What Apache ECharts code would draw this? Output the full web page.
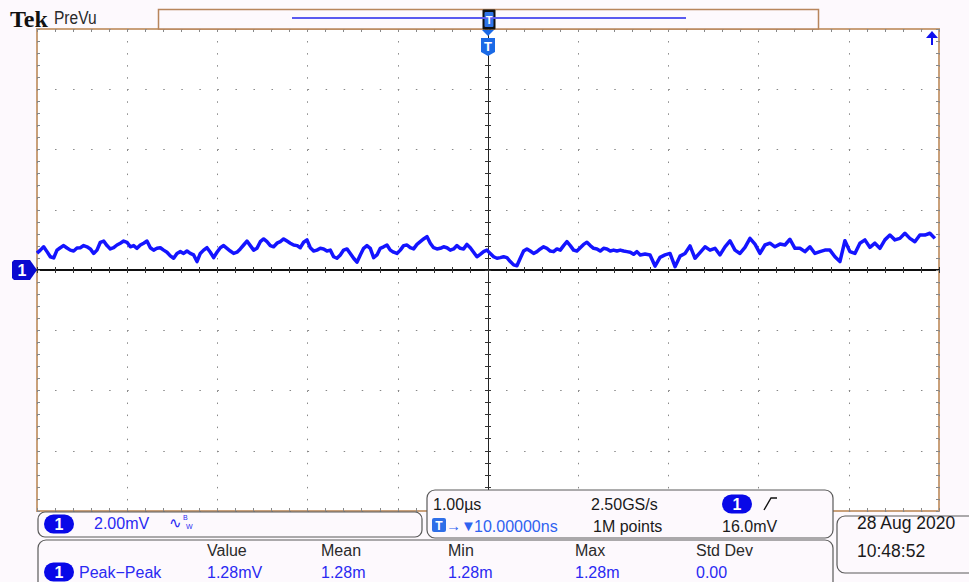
<!DOCTYPE html>
<html><head><meta charset="utf-8">
<script src="https://cdn.jsdelivr.net/npm/echarts@6/dist/echarts.min.js"></script>
<style>html,body{margin:0;padding:0;background:#fdf9fd;}#c{width:969px;height:582px;}</style>
</head><body><div id="c"></div>
<script>
// Horizontal: 1.00 µs/div, 10 divisions; vertical: 2.00 mV/div, 8 divisions
const timeRangeUs = [-5, 5];
const timeDivUs = 1;
const voltRangeMv = [-8, 8];
const voltDivMv = 2;

const recordA_t0Us = -5.0;
const recordA_dtUs = 0.03695;
const recordA_mV = [
 0.56,0.66,0.77,0.61,0.44,0.40,0.66,0.74,0.81,0.73,
 0.66,0.63,0.73,0.74,0.81,0.77,0.70,0.55,0.66,0.92,
 0.96,0.81,0.70,0.74,0.83,0.89,0.96,0.92,0.77,0.81,
 0.72,0.83,0.89,0.96,0.74,0.66,0.72,0.74,0.66,0.59,
 0.47,0.39,0.55,0.61,0.55,0.63,
 0.55,0.50,0.28,0.55,0.66,0.74,0.59,0.41,0.59,0.74,
 0.81,0.72,0.63,0.55,0.59,0.70,0.83,0.96,0.81,0.66,
 0.72,0.94,1.03,0.94,0.81,0.77,0.89,0.94,1.03,0.96,
 0.89,0.83,0.81,0.74,0.92,1.00,0.74,0.63,0.66,0.72,
 0.70,0.63,0.66,0.44,0.39,0.50,
 0.66,0.70,0.55,0.39,0.26,0.50,0.72,0.81,0.72,0.41,
 0.50,0.72,0.77,0.83,0.66,0.59,0.55,0.66,0.81,0.83,
 0.74,0.70,0.85,0.94,1.03,1.11,0.89,0.74,0.70,0.72,
 0.77,0.74,0.66,0.70,0.81,0.72,0.70,0.85,0.74,0.59,
 0.44,0.52,0.61,0.66,0.55,
 0.44,0.39,0.41,0.44,0.41,0.28,0.17,0.14,0.39,0.63,
 0.70,0.63,0.55,0.61,0.70,0.77,0.72,0.63,0.61,0.70,
 0.66,0.81,0.94,0.81,0.66,0.63,0.74,0.85,0.92,0.81,
 0.72,0.70,0.63,0.72,0.70,0.63,0.66,0.63,0.66,0.63,
 0.61,0.59,0.52,0.61,0.50
];
// second part of the record
const recordB_t0Us = 1.741;
const recordB_dtUs = 0.0554;
const recordB_mV = [
 0.53,0.50,0.13,0.42,0.50,0.55,0.11,0.46,0.55,0.80,
 0.39,0.58,0.77,0.66,0.72,0.50,0.77,0.97,0.66,0.55,
 0.75,1.05,0.86,0.55,0.83,0.89,0.77,0.86,0.83,1.02,
 0.72,0.72,0.61,0.77,0.55,0.61,0.66,0.66,0.44,0.28,
 0.97,0.61,0.55,0.89,1.00,0.75,0.89,0.72,1.00,1.16,
 1.00,1.05,1.22,1.05,0.94,1.16,1.16,1.22,1.05
];

// Readouts
const chScaleText = '2.00mV';
const horizScaleText = '1.00µs';
const sampleRateText = '2.50GS/s';
const triggerPosText = '10.00000ns';
const recordLenText = '1M points';
const triggerLevelText = '16.0mV';
const dateText = '28 Aug 2020';
const timeText = '10:48:52';
const measName = 'Peak−Peak';
const measHeaders = ['Value', 'Mean', 'Min', 'Max', 'Std Dev'];
const measValues = ['1.28mV', '1.28m', '1.28m', '1.28m', '0.00'];

const points = recordA_mV.map((v, i) => [recordA_t0Us + i * recordA_dtUs, v])
  .concat(recordB_mV.map((v, i) => [recordB_t0Us + i * recordB_dtUs, v]));

const DOT = '#888888';
const FONT = 'Liberation Sans, Arial, sans-serif';
const BLUE_TXT = '#2a2af2';

function xAx(pos, opts) {
  return Object.assign({
    type: 'value', min: timeRangeUs[0], max: timeRangeUs[1], interval: timeDivUs, position: pos,
    axisLine: { show: false, onZero: false },
    axisTick: { show: true, inside: true, length: 3, lineStyle: { color: DOT, width: 1 } },
    minorTick: { show: true, splitNumber: 5, length: 3, lineStyle: { color: DOT, width: 1 } },
    axisLabel: { show: false }, splitLine: { show: false }
  }, opts || {});
}
function yAx(pos, opts) {
  return Object.assign({
    type: 'value', min: voltRangeMv[0], max: voltRangeMv[1], interval: voltDivMv, position: pos,
    axisLine: { show: false, onZero: false },
    axisTick: { show: true, inside: true, length: 3, lineStyle: { color: DOT, width: 1 } },
    minorTick: { show: true, splitNumber: 5, length: 3, lineStyle: { color: DOT, width: 1 } },
    axisLabel: { show: false }, splitLine: { show: false }
  }, opts || {});
}
const centerTick = { show: true, inside: true, length: 3, lineStyle: { color: '#333', width: 1 } };
const centerMinor = { show: true, splitNumber: 5, length: 3, lineStyle: { color: '#333', width: 1 } };

function rect(x, y, w, h, r, fill, stroke, lw) {
  return { type: 'rect', z: 100, shape: { x, y, width: w, height: h, r: r || 0 },
    style: { fill: fill || 'none', stroke: stroke || 'none', lineWidth: lw || 1 } };
}
function txt(x, y, text, size, fill, extra) {
  extra = extra || {};
  const el = { type: 'text', z: 102, x, y,
    style: { text, font: (extra.weight ? extra.weight + ' ' : '') + size + 'px ' + (extra.family || FONT),
      fill, align: extra.align || 'left', verticalAlign: 'middle' } };
  if (extra.scaleX) { el.scaleX = extra.scaleX; }
  return el;
}
function pill(cx, cy) {
  return [
    { type: 'rect', z: 101, shape: { x: cx - 15, y: cy - 9.5, width: 30, height: 19, r: 9.5 }, style: { fill: '#0808e8' } },
    txt(cx, cy + 0.5, '1', 16, '#ffffff', { align: 'center', weight: 'bold' })
  ];
}

const BOX_FILL = '#fdf9fd', BOX_STROKE = '#5a5a5a';
const g = [];
// Logo
g.push(txt(10, 18.5, 'Tek', 24, '#111', { weight: 'bold', family: 'Liberation Serif, serif' }));
g.push(txt(54, 18.5, 'PreVu', 18.5, '#2a2a2a', { scaleX: 0.84 }));
// record bar
g.push(rect(158.5, 9.5, 660, 19.5, 0, BOX_FILL, '#b8855c', 1.5));
g.push({ type: 'line', z: 101, shape: { x1: 292, y1: 18, x2: 686, y2: 18 }, style: { stroke: '#5a5af0', lineWidth: 2 } });
g.push(rect(482.5, 9.5, 13, 20, 1, '#111', null));
g.push(rect(484.5, 12, 9, 15, 1, '#2f74e8', null));
g.push(txt(489, 20, 'T', 11, '#ffffff', { align: 'center', weight: 'bold' }));
// trigger position marker
g.push({ type: 'polygon', z: 101, shape: { points: [[482, 30], [494, 30], [488, 36]] }, style: { fill: '#1a6ae6' } });
g.push({ type: 'polygon', z: 101, shape: { points: [[481, 38], [495, 38], [495, 52], [488, 56], [481, 52]] }, style: { fill: '#1a6ae6' } });
g.push(txt(488, 46.5, 'T', 13, '#ffffff', { align: 'center', weight: 'bold' }));
// trigger level arrow (top right)
g.push({ type: 'polygon', z: 101, shape: { points: [[926, 38], [932, 31], [938, 38]] }, style: { fill: '#1010ee' } });
g.push({ type: 'line', z: 101, shape: { x1: 932, y1: 37, x2: 932, y2: 45 }, style: { stroke: '#1010ee', lineWidth: 2 } });
// channel 1 ground marker
g.push({ type: 'polygon', z: 101, shape: { points: [[14, 260], [30, 260], [37, 270], [30, 280], [14, 280], [12, 278], [12, 262]] }, style: { fill: '#0a0ad0' } });
g.push(txt(22, 270.5, '1', 16, '#ffffff', { align: 'center', weight: 'bold' }));

// Box 1 : channel scale
g.push(rect(38, 512, 384, 25, 7, BOX_FILL, BOX_STROKE, 1.2));
g.push(...pill(59, 524));
g.push(txt(94, 523.5, chScaleText, 16, BLUE_TXT));
g.push(txt(169, 522.5, '∿', 15, BLUE_TXT));
g.push(txt(183, 517.5, 'B', 7, BLUE_TXT));
g.push(txt(186, 526.5, 'W', 7, BLUE_TXT));

// Box 2 : acquisition / trigger
g.push(rect(427, 490, 406, 48, 8, BOX_FILL, BOX_STROKE, 1.2));
g.push(txt(433, 504, horizScaleText, 16, '#1a1a1a'));
g.push(txt(591, 504, sampleRateText, 16, '#1a1a1a'));
g.push(...pill(737, 504));
g.push({ type: 'polyline', z: 101, shape: { points: [[764, 510], [771, 498], [777, 498]] }, style: { stroke: '#111', lineWidth: 1.4, fill: 'none' } });
g.push(rect(432, 518, 14, 14, 2, '#2f6fe8', null));
g.push(txt(439, 525.5, 'T', 12, '#ffffff', { align: 'center', weight: 'bold' }));
g.push(txt(446, 525.5, '→▼', 15, '#2f62f0'));
g.push(txt(474, 526, triggerPosText, 16, '#2f62f0'));
g.push(txt(593, 526, recordLenText, 16, '#1a1a1a'));
g.push(txt(722, 526, triggerLevelText, 16, '#1a1a1a'));

// Date box
g.push(rect(837, 516, 150, 57, 8, BOX_FILL, BOX_STROKE, 1.2));
g.push(txt(857, 523, dateText, 17.5, '#1a1a1a'));
g.push(txt(857, 550.5, timeText, 17.5, '#1a1a1a'));

// Measurement box
g.push(rect(38, 540, 795, 60, 8, BOX_FILL, BOX_STROKE, 1.2));
g.push(...pill(59, 572));
g.push(txt(79, 572, measName, 16, BLUE_TXT));
const measCols = [207, 321, 448, 575, 696];
measHeaders.forEach((h, i) => g.push(txt(measCols[i], 550.5, h, 16, '#2a2a2a')));
measValues.forEach((v, i) => g.push(txt(measCols[i], 572, v, 16, BLUE_TXT)));

const chart = echarts.init(document.getElementById('c'), null, { renderer: 'svg' });
chart.setOption({
  animation: false,
  backgroundColor: '#fdf9fd',
  grid: { left: 37, top: 29, right: 30, bottom: 71, show: true, backgroundColor: '#ffffff', borderColor: '#c9a07a', borderWidth: 2, containLabel: false },
  xAxis: [
    xAx('bottom', { splitLine: { show: true, lineStyle: { color: DOT, width: 1, type: [1.5, 10.55] } } }),
    xAx('top'),
    xAx('bottom', { axisLine: { show: true, onZero: true, onZeroAxisIndex: 0, lineStyle: { color: '#000', width: 1.5 } }, axisTick: centerTick, minorTick: centerMinor }),
    xAx('top', { axisLine: { show: true, onZero: true, onZeroAxisIndex: 0, lineStyle: { color: '#000', width: 1.5 } }, axisTick: centerTick, minorTick: centerMinor })
  ],
  yAxis: [
    yAx('left', { splitLine: { show: true, lineStyle: { color: DOT, width: 1, type: [1.5, 16.54] } } }),
    yAx('right'),
    yAx('left', { axisLine: { show: true, onZero: true, onZeroAxisIndex: 0, lineStyle: { color: '#222', width: 1 } }, axisTick: centerTick, minorTick: centerMinor }),
    yAx('right', { axisLine: { show: true, onZero: true, onZeroAxisIndex: 0, lineStyle: { color: '#222', width: 1 } }, axisTick: centerTick, minorTick: centerMinor })
  ],
  series: [{
    type: 'line', xAxisIndex: 0, yAxisIndex: 0, data: points, showSymbol: false, z: 10,
    lineStyle: { color: '#1414ff', width: 3.5, join: 'round' }, clip: true
  }],
  graphic: { elements: g }
});
</script></body></html>
